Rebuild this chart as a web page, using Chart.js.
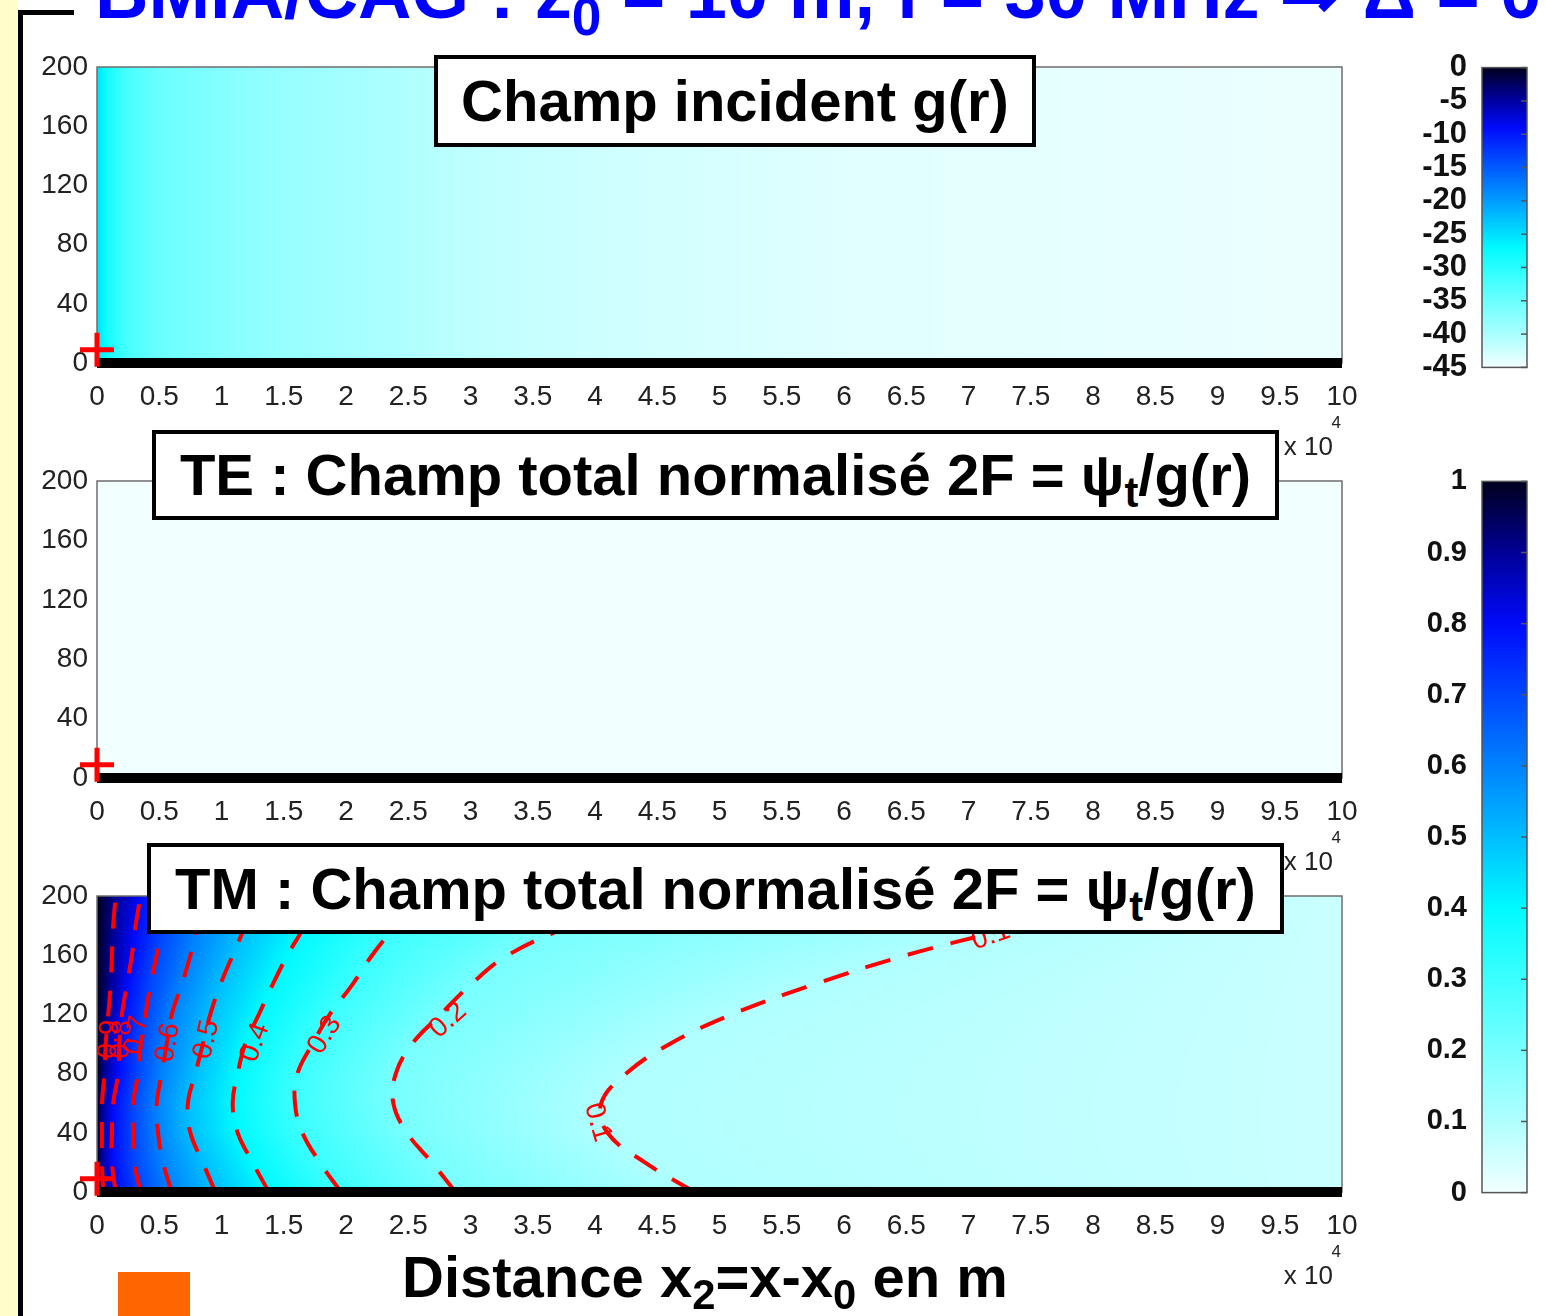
<!DOCTYPE html>
<html>
<head>
<meta charset="utf-8">
<script src="https://cdn.jsdelivr.net/npm/chart.js@4.4.1/dist/chart.umd.min.js"></script>
<style>
html, body { margin: 0; padding: 0; }
body { width: 1546px; height: 1316px; position: relative; overflow: hidden; background: #fff; font-family: "Liberation Sans", Arial, sans-serif; }
.strip { position: absolute; left: 0; top: 0; width: 18px; height: 1316px; background: #ffffcc; }
.vline { position: absolute; left: 18px; top: 10px; width: 5px; height: 1306px; background: #000; }
.hline { position: absolute; left: 18px; top: 10px; width: 56px; height: 5px; background: #000; }
.title { position: absolute; left: 95px; top: -44px; font-weight: bold; font-size: 74px; line-height: 74px; color: #0000ff; white-space: nowrap; z-index: 5; }
.title sub, .box sub, .xlab sub { font-size: 0.72em; vertical-align: -0.28em; line-height: 0; }
.title sub { vertical-align: -0.32em; }
.cv { position: absolute; }
.box { position: absolute; background: #fff; border: 4px solid #000; box-sizing: border-box; font-weight: bold; font-size: 58px; text-align: center; color: #000; white-space: nowrap; z-index: 4; -webkit-font-smoothing: antialiased; }
.xlab { position: absolute; left: 402px; top: 1248px; font-weight: bold; font-size: 58px; line-height: 58px; color: #000; white-space: nowrap; }
.orange { position: absolute; left: 118px; top: 1272px; width: 72px; height: 44px; background: #ff6600; }
</style>
</head>
<body>
<div class="strip"></div>
<div class="vline"></div>
<div class="hline"></div>
<div class="title">BMIA/CAG : z<sub>0</sub> = 10 m, f = 30 MHz &rArr; &Delta; = 0</div>

<canvas id="panelInc" class="cv" width="1400" height="430" style="left:0;top:40px"></canvas>
<canvas id="panelTE" class="cv" width="1400" height="430" style="left:0;top:454px"></canvas>
<canvas id="panelTM" class="cv" width="1400" height="430" style="left:0;top:869px"></canvas>
<canvas id="barDb" class="cv" width="160" height="367" style="left:1380px;top:34px"></canvas>
<canvas id="barAmp" class="cv" width="160" height="776" style="left:1380px;top:449px"></canvas>

<div class="box" style="left:434px;top:55px;width:602px;height:92px;line-height:84px">Champ incident g(r)</div>
<div class="box" style="left:152px;top:430px;width:1127px;height:90px;line-height:82px">TE : Champ total normalisé 2F = &psi;<sub>t</sub>/g(r)</div>
<div class="box" style="left:147px;top:843px;width:1137px;height:91px;line-height:83px">TM : Champ total normalisé 2F = &psi;<sub>t</sub>/g(r)</div>

<div class="xlab">Distance x<sub>2</sub>=x-x<sub>0</sub> en m</div>
<div class="orange"></div>

<script>
'use strict';

// axis ticks
var xTicks = [0, 0.5, 1, 1.5, 2, 2.5, 3, 3.5, 4, 4.5, 5, 5.5, 6, 6.5, 7, 7.5, 8, 8.5, 9, 9.5, 10];
var yTicks = [0, 40, 80, 120, 160, 200];
var dbTicks = [0, -5, -10, -15, -20, -25, -30, -35, -40, -45];
var ampTicks = [0, 0.1, 0.2, 0.3, 0.4, 0.5, 0.6, 0.7, 0.8, 0.9, 1];

// colour map
var cmapStops = [0, 0.1, 0.2, 0.3, 0.4, 0.5, 0.6, 0.7, 0.8, 0.9, 1];
var cmapColors = [
    [242, 255, 255], [176, 255, 255], [120, 255, 255], [60, 255, 255], [0, 250, 255],
    [0, 190, 255], [0, 130, 255], [0, 70, 255], [0, 10, 250], [0, 0, 150], [0, 0, 30]
];

// incident field g(r) in dB, along x (same at every height)
var incX = [0, 0.03, 0.1, 0.25, 0.5, 1, 1.5, 2, 2.5, 3, 4, 6, 10];
var incDb = [-25, -26, -29, -32.5, -35, -37, -38.5, -39.5, -40.5, -41.5, -42.5, -43.8, -44.6];

// TE normalised total field
var teX = [0, 10];
var teVal = [0, 0];

// TM normalised total field: x position (x10^4 m) of each contour at each height
var tmRows = [0, 20, 40, 60, 80, 100, 120, 140, 160, 180, 200];
var tmLevels = [0.9, 0.8, 0.7, 0.6, 0.5, 0.4, 0.3, 0.2, 0.1];
var tmC09 = [0.05, 0.04, 0.04, 0.04, 0.06, 0.07, 0.09, 0.11, 0.12, 0.13, 0.15];
var tmC08 = [0.15, 0.12, 0.12, 0.13, 0.17, 0.18, 0.2, 0.24, 0.28, 0.31, 0.35];
var tmC07 = [0.35, 0.3, 0.29, 0.29, 0.33, 0.35, 0.39, 0.43, 0.48, 0.54, 0.59];
var tmC06 = [0.6, 0.53, 0.49, 0.48, 0.52, 0.56, 0.6, 0.68, 0.75, 0.81, 0.87];
var tmC05 = [0.95, 0.85, 0.75, 0.73, 0.79, 0.85, 0.91, 0.99, 1.09, 1.19, 1.27];
var tmC04 = [1.38, 1.25, 1.13, 1.09, 1.13, 1.19, 1.3, 1.41, 1.53, 1.67, 1.79];
var tmC03 = [1.96, 1.79, 1.65, 1.59, 1.61, 1.73, 1.87, 2.05, 2.21, 2.4, 2.6];
var tmC02 = [2.88, 2.69, 2.49, 2.38, 2.4, 2.53, 2.76, 3.0, 3.3, 3.8, 4.37];
var tmC01 = [4.8, 4.4, 4.1, 4.05, 4.25, 4.6, 5.1, 5.75, 6.5, 7.4, 8.15];
var tmContours = [tmC09, tmC08, tmC07, tmC06, tmC05, tmC04, tmC03, tmC02, tmC01];
var tmEdge = 1.0;   // value at x = 0
var tmFar = 0.06;   // value at x = 10

// contour labels
var tmLabelText = ['0.9', '0.8', '0.7', '0.6', '0.5', '0.4', '0.3', '0.2', '0.1', '0.1'];
var tmLabelX = [0.1, 0.2, 0.32, 0.57, 0.88, 1.27, 1.83, 2.82, 4.02, 7.18];
var tmLabelY = [103, 103, 106, 101, 103, 101, 106, 116, 47, 173];
var tmLabelAngle = [-85, -85, -80, -80, -77, -70, -58, -42, 74, -20];

// source point and ground
var sourcePoint = [{x: 0, y: 9}];
var groundLine = [{x: 0, y: 0}, {x: 10, y: 0}];

var FONT = '"Liberation Sans", Arial, sans-serif';

function interp(xs, vs, x) {
    if (x <= xs[0]) return vs[0];
    for (var i = 1; i < xs.length; i++) {
        if (x <= xs[i]) {
            var t = (x - xs[i - 1]) / (xs[i] - xs[i - 1]);
            return vs[i - 1] + t * (vs[i] - vs[i - 1]);
        }
    }
    return vs[vs.length - 1];
}

function colorFor(v) {
    v = Math.max(0, Math.min(1, v));
    for (var i = 1; i < cmapStops.length; i++) {
        if (v <= cmapStops[i]) {
            var t = (v - cmapStops[i - 1]) / (cmapStops[i] - cmapStops[i - 1]);
            var a = cmapColors[i - 1], b = cmapColors[i];
            return [a[0] + t * (b[0] - a[0]), a[1] + t * (b[1] - a[1]), a[2] + t * (b[2] - a[2])];
        }
    }
    return cmapColors[cmapColors.length - 1];
}

function heatPlugin(rowProfile, vmin, vmax) {
    return {
        id: 'heat',
        beforeDatasetsDraw: function(chart) {
            var a = chart.chartArea, sx = chart.scales.x, sy = chart.scales.y, ctx = chart.ctx;
            var left = Math.round(a.left), top = Math.round(a.top);
            var w = Math.round(a.right) - left, h = Math.round(a.bottom) - top;
            var img = ctx.createImageData(w, h);
            for (var j = 0; j < h; j++) {
                var prof = rowProfile(sy.getValueForPixel(top + j + 0.5));
                for (var i = 0; i < w; i++) {
                    var v = interp(prof.xs, prof.vs, sx.getValueForPixel(left + i + 0.5));
                    var c = colorFor((v - vmin) / (vmax - vmin));
                    var k = (j * w + i) * 4;
                    img.data[k] = c[0]; img.data[k + 1] = c[1]; img.data[k + 2] = c[2]; img.data[k + 3] = 255;
                }
            }
            ctx.putImageData(img, left, top);
            ctx.save();
            ctx.strokeStyle = '#6e6e6e';
            ctx.lineWidth = 1.5;
            ctx.strokeRect(a.left, a.top, a.right - a.left, a.bottom - a.top);
            ctx.restore();
        },
        afterDraw: function(chart) {
            var a = chart.chartArea, ctx = chart.ctx;
            ctx.save();
            ctx.fillStyle = '#222';
            ctx.textAlign = 'right';
            ctx.textBaseline = 'middle';
            ctx.font = '26px ' + FONT;
            ctx.fillText('x 10', a.right - 9, a.bottom + 85);
            ctx.font = '17px ' + FONT;
            ctx.fillText('4', a.right - 1, a.bottom + 60);
            ctx.restore();
        }
    };
}

var labelPlugin = {
    id: 'clabels',
    afterDatasetsDraw: function(chart) {
        var sx = chart.scales.x, sy = chart.scales.y, ctx = chart.ctx;
        ctx.save();
        ctx.beginPath();
        ctx.rect(chart.chartArea.left, chart.chartArea.top, chart.chartArea.right - chart.chartArea.left, chart.chartArea.bottom - chart.chartArea.top);
        ctx.clip();
        ctx.fillStyle = '#ff0000';
        ctx.font = '28px ' + FONT;
        ctx.textAlign = 'center';
        ctx.textBaseline = 'middle';
        tmLabelText.forEach(function(t, i) {
            ctx.save();
            ctx.translate(sx.getPixelForValue(tmLabelX[i]), sy.getPixelForValue(tmLabelY[i]));
            ctx.rotate(tmLabelAngle[i] * Math.PI / 180);
            ctx.fillText(t, 0, 0);
            ctx.restore();
        });
        ctx.restore();
    }
};

function panelOptions(padBottom) {
    return {
        responsive: false,
        animation: false,
        layout: { padding: { left: 0, right: 58, top: 27, bottom: padBottom } },
        plugins: { legend: { display: false }, tooltip: { enabled: false } },
        scales: {
            x: {
                type: 'linear', min: 0, max: 10,
                afterBuildTicks: function(s) { s.ticks = xTicks.map(function(v) { return {value: v}; }); },
                afterFit: function(s) { s.height = 50; },
                grid: { display: false, drawTicks: false },
                border: { display: false },
                ticks: {
                    autoSkip: false, maxRotation: 0, padding: 17, color: '#222',
                    font: { family: FONT, size: 28 },
                    callback: function(v) { return String(v); }
                }
            },
            y: {
                type: 'linear', min: 0, max: 200,
                afterBuildTicks: function(s) { s.ticks = yTicks.map(function(v) { return {value: v}; }); },
                afterFit: function(s) { s.width = 97; },
                grid: { display: false, drawTicks: false },
                border: { display: false },
                ticks: { autoSkip: false, padding: 9, color: '#222', font: { family: FONT, size: 28 } }
            }
        }
    };
}

function baseDatasets() {
    return [
        {
            data: sourcePoint, pointStyle: 'cross', pointRadius: 17, borderColor: '#ff0000',
            borderWidth: 5, backgroundColor: '#ff0000', clip: 30
        },
        {
            data: groundLine, showLine: true, borderColor: '#000', borderWidth: 10,
            pointRadius: 0, clip: 10
        }
    ];
}

function makePanel(id, rowProfile, vmin, vmax, extra, plugins, padBottom) {
    var ds = baseDatasets().concat(extra);
    new Chart(document.getElementById(id).getContext('2d'), {
        type: 'scatter',
        data: { datasets: ds },
        options: panelOptions(padBottom),
        plugins: [heatPlugin(rowProfile, vmin, vmax)].concat(plugins)
    });
}

// panel 1 : incident field
makePanel('panelInc', function() { return {xs: incX, vs: incDb}; }, -45, 0, [], [], 57);

// panel 2 : TE
makePanel('panelTE', function() { return {xs: teX, vs: teVal}; }, 0, 1, [], [], 56);

// panel 3 : TM with contours
var tmContourSets = tmContours.map(function(cx) {
    return {
        data: tmRows.map(function(r, j) { return {x: cx[j], y: r}; }),
        showLine: true, borderColor: '#ff0000', borderWidth: 4, borderDash: [26, 18],
        pointRadius: 0, tension: 0.4
    };
});
makePanel('panelTM', function(yv) {
    var xs = [0], vs = [tmEdge];
    tmContours.forEach(function(cx, k) {
        xs.push(interp(tmRows, cx, yv));
        vs.push(tmLevels[k]);
    });
    xs.push(10); vs.push(tmFar);
    return {xs: xs, vs: vs};
}, 0, 1, tmContourSets, [labelPlugin], 57);

// colour bars
function colorBarPlugin(vmin, vmax) {
    return {
        id: 'cbar',
        beforeDatasetsDraw: function(chart) {
            var a = chart.chartArea, sy = chart.scales.y, ctx = chart.ctx;
            ctx.save();
            for (var py = Math.floor(a.top); py < a.bottom; py++) {
                var c = colorFor((sy.getValueForPixel(py + 0.5) - vmin) / (vmax - vmin));
                ctx.fillStyle = 'rgb(' + Math.round(c[0]) + ',' + Math.round(c[1]) + ',' + Math.round(c[2]) + ')';
                ctx.fillRect(a.left, py, a.right - a.left, 1);
            }
            ctx.strokeStyle = '#555';
            ctx.lineWidth = 1.5;
            ctx.strokeRect(a.left, a.top, a.right - a.left, a.bottom - a.top);
            sy.ticks.forEach(function(t) {
                var p = sy.getPixelForValue(t.value);
                ctx.beginPath();
                ctx.moveTo(a.right - 6, p);
                ctx.lineTo(a.right, p);
                ctx.stroke();
            });
            ctx.restore();
        }
    };
}

function makeBar(id, tickList, vmin, vmax, fontSize) {
    new Chart(document.getElementById(id).getContext('2d'), {
        type: 'scatter',
        data: { datasets: [] },
        options: {
            responsive: false,
            animation: false,
            layout: { padding: { left: 0, right: 13, top: 0, bottom: 0 } },
            plugins: { legend: { display: false }, tooltip: { enabled: false } },
            scales: {
                x: { display: false, min: 0, max: 1 },
                y: {
                    type: 'linear', min: vmin, max: vmax,
                    afterBuildTicks: function(s) { s.ticks = tickList.map(function(v) { return {value: v}; }); },
                    afterFit: function(s) { s.width = 102; },
                    grid: { display: false, drawTicks: false },
                    border: { display: false },
                    ticks: {
                        autoSkip: false, padding: 15, color: '#111',
                        font: { family: FONT, size: fontSize, weight: 'bold' },
                        callback: function(v) { return String(v); }
                    }
                }
            }
        },
        plugins: [colorBarPlugin(vmin, vmax)]
    });
}

makeBar('barDb', dbTicks, -45, 0, 31);
makeBar('barAmp', ampTicks, 0, 1, 29);
</script>
</body>
</html>
